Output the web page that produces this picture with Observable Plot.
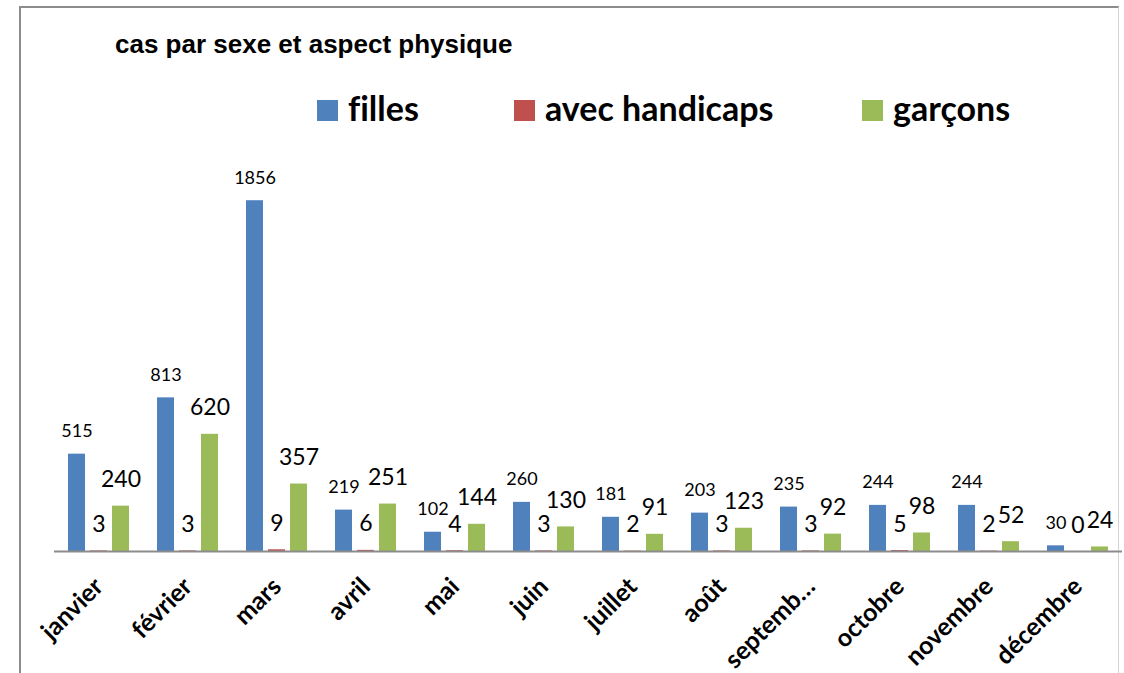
<!DOCTYPE html>
<html>
<head>
<meta charset="utf-8">
<script src="https://cdn.jsdelivr.net/npm/d3@7"></script>
<script src="https://cdn.jsdelivr.net/npm/@observablehq/plot@0.6"></script>
<style>
  html, body { margin: 0; padding: 0; background: #fff; }
  body { width: 1124px; height: 673px; overflow: hidden; position: relative; font-variant-ligatures: none; }
  #frame { position: absolute; left: 19px; top: 6px; width: 1100px; height: 720px;
    border-left: 2px solid #8c8c8c; border-top: 2px solid #8c8c8c; border-right: 1px solid #d4d4d4; box-sizing: border-box; }
  #header { position: relative; height: 140px; }
  #title { position: absolute; left: 115px; top: 31px; font: bold 26px "Liberation Sans", Arial, sans-serif; line-height: 1; color: #000; white-space: nowrap; }
  .leg { position: absolute; top: 91px; font: bold 34px Lato, "Open Sans", sans-serif; line-height: 1; color: #000; white-space: nowrap; font-variant-ligatures: none; }
  .leg .sw { display: inline-block; width: 21px; height: 21px; margin-right: 10px; }
  #chart { position: relative; }
  #chart svg { font-variant-ligatures: none; }
</style>
</head>
<body>
<div id="frame"></div>
<div id="header">
  <div id="title"></div>
</div>
<div id="chart"></div>
<script>
const title = "cas par sexe et aspect physique";
const months = ["janvier", "février", "mars", "avril", "mai", "juin", "juillet", "août", "septemb\u2026", "octobre", "novembre", "décembre"];
const seriesNames = ["filles", "avec handicaps", "garçons"];
const seriesColors = ["#4f81bd", "#c0504d", "#9bbb59"];
const filles = [515, 813, 1856, 219, 102, 260, 181, 203, 235, 244, 244, 30];
const handicaps = [3, 3, 9, 6, 4, 3, 2, 3, 3, 5, 2, 0];
const garcons = [240, 620, 357, 251, 144, 130, 91, 123, 92, 98, 52, 24];
const legendLeft = [317, 514, 862];

document.getElementById("title").textContent = title;
const header = document.getElementById("header");
seriesNames.forEach((name, i) => {
  const d = document.createElement("div");
  d.className = "leg";
  d.style.left = legendLeft[i] + "px";
  const sw = document.createElement("span");
  sw.className = "sw";
  sw.style.background = seriesColors[i];
  d.appendChild(sw);
  d.appendChild(document.createTextNode(name));
  header.appendChild(d);
});

const seriesValues = [filles, handicaps, garcons];
const rows = months.flatMap((m, i) => seriesNames.map((s, j) => ({month: m, series: s, value: seriesValues[j][i]})));

const labelFont = "Lato, 'Open Sans', sans-serif";
const chart = Plot.plot({
  width: 1124,
  height: 533,
  marginLeft: 51,
  marginRight: 0,
  marginTop: 33,
  marginBottom: 122,
  style: {fontFamily: labelFont, fontSize: "25px", fontWeight: "bold", color: "#000", background: "transparent", overflow: "visible"},
  fx: {domain: months, padding: 0, label: null, tickSize: 0, tickPadding: 31, tickRotate: -45},
  x: {domain: seriesNames, paddingInner: 0.222, paddingOuter: 0.6, axis: null},
  y: {domain: [0, 2000], axis: null},
  color: {domain: seriesNames, range: seriesColors},
  marks: [
    Plot.barY(rows, {fx: "month", x: "series", y: "value", fill: "series"}),
    Plot.ruleY([0], {stroke: "#8c8c8c", strokeWidth: 2}),
    Plot.text(rows.filter(d => d.series === "filles"), {fx: "month", x: "series", y: "value", text: d => String(d.value), lineAnchor: "bottom", dy: -17, fontSize: 18, fontWeight: "normal", fill: "#000"}),
    Plot.text(rows.filter(d => d.series !== "filles"), {fx: "month", x: "series", y: "value", text: d => String(d.value), lineAnchor: "bottom", dy: -19, fontSize: 23, fontWeight: "normal", fill: "#000"})
  ]
});
document.getElementById("chart").appendChild(chart);
</script>
</body>
</html>
